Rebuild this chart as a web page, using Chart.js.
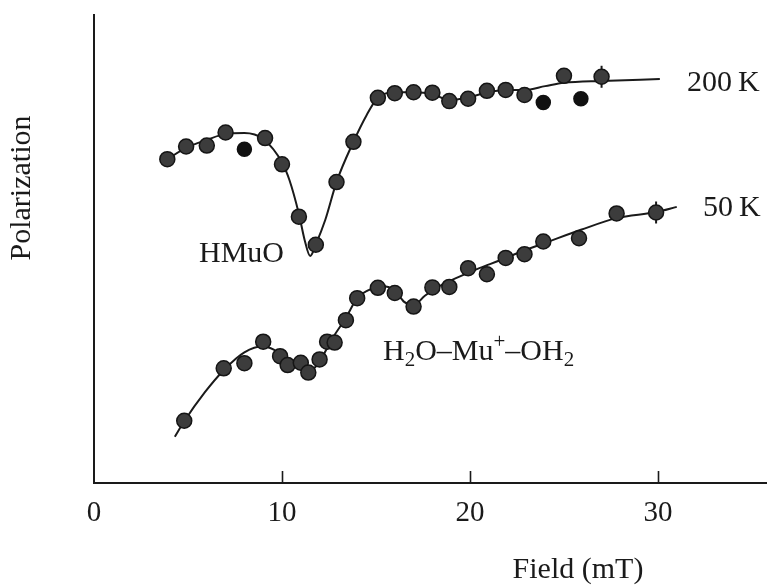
<!DOCTYPE html>
<html>
<head>
<meta charset="utf-8">
<script src="https://cdn.jsdelivr.net/npm/chart.js@4/dist/chart.umd.min.js"></script>
<style>
  html, body { margin: 0; padding: 0; background: #fff; }
  #wrap { width: 767px; height: 587px; position: relative; }
</style>
</head>
<body>
<div id="wrap"><canvas id="chart"></canvas></div>
<script>
// 200 K measured points (on the fit)
const field200 = [3.9, 4.9, 6.0, 7.0, 9.1, 10.0, 10.9, 11.8, 12.9, 13.8, 15.1, 16.0, 17.0, 18.0, 18.9, 19.9, 20.9, 21.9, 22.9, 25.0, 27.0];
const pol200 = [69.2, 71.9, 72.1, 74.9, 73.7, 68.1, 56.9, 50.9, 64.3, 72.9, 82.3, 83.3, 83.5, 83.4, 81.6, 82.1, 83.8, 84.0, 82.9, 87.0, 86.8];
// 200 K solid dots off the curve
const field200b = [8.0, 23.9, 25.9];
const pol200b = [71.3, 81.3, 82.1];
// 200 K fitted curve
const fit200x = [3.9, 4.9, 6.0, 7.0, 8.0, 9.0, 10.0, 10.4, 10.9, 11.2, 11.5, 11.8, 12.3, 12.9, 13.8, 14.5, 15.1, 16.0, 17.0, 18.0, 18.9, 19.8, 21.0, 21.9, 22.9, 24.0, 25.0, 27.0, 30.1];
const fit200y = [69.2, 71.6, 73.3, 74.6, 74.8, 73.5, 68.5, 64.7, 57.5, 52.0, 48.5, 51.0, 56.2, 64.3, 72.9, 78.6, 82.3, 83.5, 83.5, 83.1, 81.8, 82.3, 83.5, 84.0, 84.0, 84.8, 85.5, 85.9, 86.3];

// 50 K measured points
const field50 = [4.8, 6.9, 8.0, 9.0, 9.9, 10.3, 11.0, 11.4, 12.0, 12.4, 12.8, 13.4, 14.0, 15.1, 16.0, 17.0, 18.0, 18.9, 19.9, 20.9, 21.9, 22.9, 23.9, 25.8, 27.8, 29.9];
const pol50 = [13.3, 24.5, 25.6, 30.2, 27.1, 25.2, 25.7, 23.6, 26.4, 30.2, 30.0, 34.8, 39.5, 41.7, 40.6, 37.7, 41.8, 41.9, 45.9, 44.6, 48.1, 48.9, 51.6, 52.3, 57.6, 57.8];
// 50 K fitted curve
const fit50x = [4.3, 4.8, 5.9, 6.9, 8.0, 9.0, 9.6, 10.4, 11.2, 11.6, 12.1, 12.7, 13.4, 14.0, 14.6, 15.2, 16.0, 16.5, 17.0, 17.6, 18.4, 19.5, 20.5, 21.6, 22.7, 24.0, 25.9, 27.8, 29.9, 31.0];
const fit50y = [9.9, 13.2, 19.4, 24.1, 27.9, 29.2, 28.4, 26.3, 24.6, 24.3, 26.7, 31.0, 35.3, 39.5, 41.2, 42.1, 41.2, 38.7, 38.0, 40.0, 42.1, 44.2, 45.9, 47.6, 49.4, 51.3, 54.1, 56.6, 57.9, 59.0];

// points carrying an error bar
const errField = [27.0, 29.9];
const errPol = [86.8, 57.8];

const xTicks = [0, 10, 20, 30];

function pts(xs, ys) {
    return xs.map((x, i) => ({ x: x, y: ys[i] }));
}

const serif = "'Liberation Serif', 'DejaVu Serif', serif";
const ink = '#1a1a1a';

// labels, inward ticks, axis titles
const decor = {
    id: 'decor',
    afterDraw(chart) {
        const ctx = chart.ctx;
        const xs = chart.scales.x;
        const area = chart.chartArea;
        ctx.save();
        ctx.strokeStyle = ink;
        ctx.lineWidth = 1.6;
        xTicks.slice(1).forEach(v => {
            const px = Math.round(xs.getPixelForValue(v)) + 0.5;
            ctx.beginPath();
            ctx.moveTo(px, area.bottom);
            ctx.lineTo(px, area.bottom - 12);
            ctx.stroke();
        });

        ctx.fillStyle = ink;
        ctx.font = '30px ' + serif;
        ctx.textBaseline = 'alphabetic';
        ctx.textAlign = 'left';
        ctx.fillText('200\u2009K', 687, 91);
        ctx.fillText('50\u2009K', 703, 216);
        ctx.fillText('HMuO', 199, 262);

        // H2O-Mu+-OH2 with sub/superscripts
        let x = 383;
        const base = 360;
        const parts = [
            ['H', 0, 30], ['2', 6, 21], ['O\u2013Mu', 0, 30], ['+', -12, 21], ['\u2013OH', 0, 30], ['2', 6, 21]
        ];
        parts.forEach(p => {
            ctx.font = p[2] + 'px ' + serif;
            ctx.fillText(p[0], x, base + p[1]);
            x += ctx.measureText(p[0]).width;
        });

        ctx.font = '30px ' + serif;
        ctx.textAlign = 'center';
        ctx.fillText('Field (mT)', 578, 578);

        ctx.translate(22, 188);
        ctx.rotate(-Math.PI / 2);
        ctx.textBaseline = 'middle';
        ctx.fillText('Polarization', 0, 0);
        ctx.restore();
    }
};

const dotStyle = {
    showLine: false,
    pointRadius: 7.5,
    pointBackgroundColor: '#3c3c3c',
    pointBorderColor: '#151515',
    pointBorderWidth: 1.5,
    order: 0
};

const lineStyle = {
    showLine: true,
    pointRadius: 0,
    borderColor: ink,
    borderWidth: 2,
    cubicInterpolationMode: 'monotone',
    fill: false,
    order: 2
};

new Chart(document.getElementById('chart'), {
    type: 'scatter',
    data: {
        datasets: [
            Object.assign({ label: '200 K', data: pts(field200, pol200) }, dotStyle),
            Object.assign({ label: '200 K (off)', data: pts(field200b, pol200b) }, dotStyle, {
                pointRadius: 7, pointBackgroundColor: '#111', pointBorderColor: '#111'
            }),
            Object.assign({ label: '50 K', data: pts(field50, pol50) }, dotStyle),
            {
                label: 'error', data: pts(errField, errPol), showLine: false,
                pointStyle: 'line', rotation: 90, pointRadius: 11,
                pointBorderColor: ink, pointBorderWidth: 2, order: 1
            },
            Object.assign({ label: '200 K fit', data: pts(fit200x, fit200y) }, lineStyle),
            Object.assign({ label: '50 K fit', data: pts(fit50x, fit50y) }, lineStyle)
        ]
    },
    options: {
        responsive: true,
        maintainAspectRatio: false,
        animation: false,
        layout: { autoPadding: false, padding: { top: 15, left: 0, right: 0, bottom: 0 } },
        plugins: { legend: { display: false }, tooltip: { enabled: false } },
        scales: {
            x: {
                type: 'linear',
                min: 0,
                max: 35.8,
                afterFit(scale) {
                    scale.height = 104;
                    scale.paddingRight = 0;
                    scale.paddingLeft = 0;
                },
                afterBuildTicks(scale) { scale.ticks = xTicks.map(v => ({ value: v })); },
                grid: { display: false, drawTicks: false },
                border: { display: true, color: ink, width: 2 },
                ticks: {
                    padding: 13,
                    color: ink,
                    font: { family: serif, size: 29 }
                }
            },
            y: {
                type: 'linear',
                min: 0,
                max: 100,
                afterFit(scale) { scale.width = 94; },
                grid: { display: false, drawTicks: false },
                border: { display: true, color: ink, width: 2 },
                ticks: { display: false }
            }
        }
    },
    plugins: [decor]
});
</script>
</body>
</html>
